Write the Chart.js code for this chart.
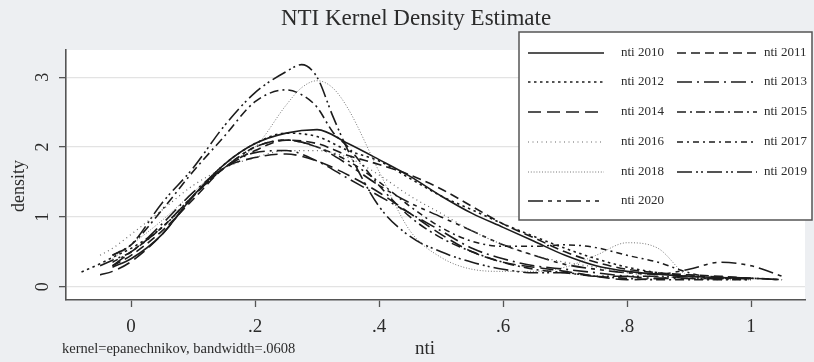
<!DOCTYPE html>
<html lang="en">
<head>
    <meta charset="UTF-8">
    <title>NTI Kernel Density Estimate</title>
    <script src="https://cdn.jsdelivr.net/npm/chart.js"></script>
    <style>
        body { margin: 0; background: #edeff2; }
        #wrap { width: 814px; height: 362px; }
    </style>
</head>
<body>
    <div id="wrap"><canvas id="kdeChart" width="814" height="362"></canvas></div>

    <script>
        // x positions where the curves are sampled (null = not sampled there)
        const xGrid = [-0.08, -0.05, -0.03, 0, 0.05, 0.1, 0.15, 0.2, 0.25, 0.275, 0.3, 0.325, 0.35, 0.4, 0.45,
                       0.5, 0.55, 0.6, 0.65, 0.7, 0.75, 0.8, 0.85, 0.9, 0.95, 1.0, 1.05];

        // density estimates, one array per year
        const nti2010 = [null, null, 0.28, 0.4, 0.75, 1.3, 1.75, 2.05, 2.2, null, 2.25, null, 2.05, 1.82, 1.58, 1.3, 1.05, 0.85, 0.65, 0.45, 0.3, 0.22, 0.18, 0.15, 0.13, 0.12, null];
        const nti2011 = [null, null, 0.3, 0.45, 0.8, 1.25, 1.7, 1.95, 2.1, null, 2.05, null, 1.88, 1.75, 1.6, 1.4, 1.15, 0.9, 0.7, 0.5, 0.35, 0.25, 0.2, 0.17, 0.15, 0.12, null];
        const nti2012 = [0.21, 0.33, 0.42, 0.55, 0.85, 1.3, 1.75, 2.05, 2.2, null, 2.15, null, 1.95, 1.8, 1.55, 1.3, 1.1, 0.9, 0.72, 0.55, 0.4, 0.28, 0.2, 0.15, 0.12, 0.1, null];
        const nti2013 = [null, 0.3, 0.38, 0.5, 0.9, 1.35, 1.7, 1.92, 1.95, null, 1.8, null, 1.55, 1.3, 1.05, 0.8, 0.55, 0.4, 0.3, 0.25, 0.2, 0.15, 0.12, 0.12, 0.12, 0.12, 0.1];
        const nti2014 = [null, 0.17, 0.22, 0.36, 0.75, 1.29, 1.7, 1.85, 1.9, null, 1.8, null, 1.6, 1.35, 1.05, 0.75, 0.5, 0.35, 0.28, 0.22, 0.15, 0.1, 0.12, 0.15, 0.14, 0.12, null];
        const nti2015 = [null, null, 0.45, 0.6, 1.1, 1.65, 2.15, 2.65, 2.82, 2.75, 2.57, 2.22, 2.0, 1.45, 1.0, 0.7, 0.5, 0.35, 0.25, 0.2, 0.15, 0.12, 0.1, 0.1, 0.1, 0.1, null];
        const nti2016 = [null, 0.45, 0.55, 0.75, 1.1, 1.45, 1.7, 1.85, 1.95, null, 1.95, null, 1.85, 1.6, 1.3, 1.05, 0.8, 0.6, 0.45, 0.35, 0.28, 0.2, 0.15, 0.12, 0.1, 0.1, null];
        const nti2017 = [null, null, 0.35, 0.5, 0.85, 1.3, 1.7, 2.0, 2.1, null, 2.0, null, 1.8, 1.5, 1.15, 0.85, 0.65, 0.58, 0.58, 0.6, 0.56, 0.45, 0.35, 0.2, 0.12, 0.12, 0.1];
        const nti2018 = [null, null, 0.4, 0.6, 0.95, 1.35, 1.75, 2.0, 2.6, 2.85, 2.95, 2.85, 2.55, 1.65, 0.8, 0.42, 0.25, 0.22, 0.22, 0.28, 0.45, 0.63, 0.55, 0.15, 0.1, null, null];
        const nti2019 = [null, null, 0.45, 0.6, 1.2, 1.7, 2.3, 2.78, 3.08, 3.18, 3.0, 2.45, 1.95, 1.15, 0.72, 0.5, 0.35, 0.25, 0.2, 0.2, 0.15, 0.15, 0.15, 0.12, 0.12, 0.12, 0.1];
        const nti2020 = [null, null, 0.3, 0.5, 0.85, 1.3, 1.7, 2.0, 2.1, null, 2.0, null, 1.75, 1.45, 1.2, 1.0, 0.8, 0.6, 0.45, 0.32, 0.25, 0.2, 0.18, 0.25, 0.35, 0.3, 0.15];

        const seriesNames = ['nti 2010', 'nti 2011', 'nti 2012', 'nti 2013', 'nti 2014', 'nti 2015',
                             'nti 2016', 'nti 2017', 'nti 2018', 'nti 2019', 'nti 2020'];
        const seriesValues = [nti2010, nti2011, nti2012, nti2013, nti2014, nti2015,
                              nti2016, nti2017, nti2018, nti2019, nti2020];

        const xTicks = [0, 0.2, 0.4, 0.6, 0.8, 1];
        const xTickLabels = ['0', '.2', '.4', '.6', '.8', '1'];
        const yTicks = [0, 1, 2, 3];
        const yTickLabels = ['0', '1', '2', '3'];

        // line looks, stata style
        const styles = [
            { dash: [], color: '#1c1c1c', width: 1.6 },
            { dash: [9, 5], color: '#1c1c1c', width: 1.6 },
            { dash: [2.5, 3.5], color: '#1c1c1c', width: 1.6 },
            { dash: [15, 5, 2, 5], color: '#1c1c1c', width: 1.6 },
            { dash: [13, 6], color: '#1c1c1c', width: 1.6 },
            { dash: [9, 4, 2, 4], color: '#1c1c1c', width: 1.6 },
            { dash: [1, 3.5], color: '#666', width: 1.2 },
            { dash: [6, 4, 2, 4], color: '#1c1c1c', width: 1.5 },
            { dash: [1, 1.8], color: '#777', width: 1 },
            { dash: [15, 4, 2, 3, 2, 4], color: '#1c1c1c', width: 1.6 },
            { dash: [15, 5, 4, 5, 4, 5], color: '#1c1c1c', width: 1.6 }
        ];

        const serif = '"Liberation Serif", "DejaVu Serif", serif';

        const datasets = seriesNames.map((name, i) => ({
            label: name,
            data: xGrid.map((x, j) => ({ x: x, y: seriesValues[i][j] })).filter(p => p.y !== null),
            borderColor: styles[i].color,
            borderDash: styles[i].dash,
            borderWidth: styles[i].width,
            pointRadius: 0,
            fill: false,
            cubicInterpolationMode: 'monotone'
        }));

        // white plot region, title, axis texts and the boxed legend
        const decor = {
            id: 'decor',
            beforeDraw(chart) {
                const { ctx, chartArea: a } = chart;
                ctx.save();
                ctx.fillStyle = '#edeff2';
                ctx.fillRect(0, 0, chart.width, chart.height);
                ctx.fillStyle = '#ffffff';
                ctx.fillRect(a.left, a.top, a.right - a.left, a.bottom - a.top);
                ctx.restore();
            },
            afterDraw(chart) {
                const { ctx } = chart;
                const ys = chart.scales.y;
                ctx.save();
                ctx.fillStyle = '#2b2b2b';
                ctx.textBaseline = 'middle';

                ctx.font = '23px ' + serif;
                ctx.textAlign = 'center';
                ctx.fillText('NTI Kernel Density Estimate', 416, 19);

                // y tick labels, turned like the axis title
                ctx.font = '18px ' + serif;
                yTicks.forEach((v, i) => {
                    ctx.save();
                    ctx.translate(43, ys.getPixelForValue(v));
                    ctx.rotate(-Math.PI / 2);
                    ctx.fillText(yTickLabels[i], 0, 0);
                    ctx.restore();
                });
                ctx.save();
                ctx.translate(19, 186);
                ctx.rotate(-Math.PI / 2);
                ctx.fillText('density', 0, 0);
                ctx.restore();

                ctx.font = '19px ' + serif;
                ctx.fillText('nti', 425, 349);
                ctx.font = '14.5px ' + serif;
                ctx.textAlign = 'left';
                ctx.fillText('kernel=epanechnikov, bandwidth=.0608', 62, 349);

                // legend box
                const bx = 519, by = 32, bw = 293, bh = 188;
                ctx.fillStyle = '#ffffff';
                ctx.fillRect(bx, by, bw, bh);
                ctx.strokeStyle = '#555';
                ctx.lineWidth = 1.5;
                ctx.strokeRect(bx, by, bw, bh);

                const rowY = [53, 82, 112, 142, 172, 201];
                const cols = [{ x0: 528, x1: 604, tx: 621 }, { x0: 677, x1: 757, tx: 764 }];
                ctx.font = '13px ' + serif;
                chart.data.datasets.forEach((ds, i) => {
                    const c = cols[i % 2];
                    const y = rowY[Math.floor(i / 2)];
                    ctx.strokeStyle = ds.borderColor;
                    ctx.lineWidth = ds.borderWidth;
                    ctx.setLineDash(ds.borderDash);
                    ctx.beginPath();
                    ctx.moveTo(c.x0, y);
                    ctx.lineTo(c.x1, y);
                    ctx.stroke();
                    ctx.setLineDash([]);
                    ctx.fillStyle = '#2b2b2b';
                    ctx.fillText(ds.label, c.tx, y);
                });
                ctx.restore();
            }
        };

        new Chart(document.getElementById('kdeChart'), {
            type: 'line',
            data: { datasets: datasets },
            options: {
                responsive: false,
                animation: false,
                layout: { padding: { left: 0, right: 9, top: 50, bottom: 0 } },
                plugins: {
                    legend: { display: false },
                    tooltip: { enabled: false }
                },
                scales: {
                    x: {
                        type: 'linear',
                        min: -0.105,
                        max: 1.087,
                        afterBuildTicks: s => { s.ticks = xTicks.map(v => ({ value: v })); },
                        afterFit: s => { s.height = 62; },
                        ticks: {
                            callback: v => xTickLabels[xTicks.indexOf(v)],
                            color: '#2b2b2b',
                            font: { family: serif, size: 19 },
                            padding: 9,
                            maxRotation: 0
                        },
                        grid: { drawOnChartArea: false, tickLength: 7, tickColor: '#555', tickWidth: 1.3 },
                        border: { color: '#555', width: 1.6 }
                    },
                    y: {
                        min: -0.19,
                        max: 3.39,
                        afterBuildTicks: s => { s.ticks = yTicks.map(v => ({ value: v })); },
                        afterFit: s => { s.width = 66; },
                        ticks: { display: false },
                        grid: { color: '#e3e3e3', lineWidth: 1.3, tickLength: 7, tickColor: '#555', tickWidth: 1.3 },
                        border: { color: '#555', width: 1.6 }
                    }
                }
            },
            plugins: [decor]
        });
    </script>
</body>
</html>
